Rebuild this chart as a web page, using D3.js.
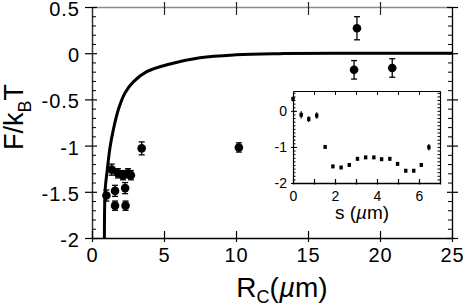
<!DOCTYPE html>
<html><head><meta charset="utf-8">
<script src="https://cdn.jsdelivr.net/npm/d3@7"></script>
<style>
body{margin:0;background:#fff}
svg{display:block}
text{font-family:"Liberation Sans",Arial,Helvetica,sans-serif;fill:#000}
</style>
</head><body>
<svg id="c" width="467" height="307"></svg>
<script>
// ---- data ----
const mainR   = [1.0, 1.37, 1.8, 2.15, 2.5, 2.7, 1.6, 2.3, 1.6, 2.33, 3.45, 10.2, 18.4, 18.2, 20.85];
const mainF   = [-1.54, -1.26, -1.30, -1.32, -1.30, -1.32, -1.49, -1.46, -1.65, -1.65, -1.03, -1.02, 0.27, -0.18, -0.16];
const mainErr = [0.06, 0.06, 0.05, 0.05, 0.05, 0.05, 0.06, 0.06, 0.05, 0.05, 0.07, 0.05, 0.125, 0.1, 0.1];

const curveR = [0.86, 0.87, 0.89, 0.93, 1.04, 1.25, 1.48, 1.83, 2.29, 2.87, 3.8, 5.2, 7.5, 10, 13, 17, 25];
const curveF = [-2.0, -1.75, -1.58, -1.44, -1.29, -1.02, -0.83, -0.61, -0.43, -0.31, -0.2, -0.125, -0.05, -0.018, -0.005, 0, 0];

const insetS   = [0, 0.39, 0.75, 1.13, 1.53, 1.9, 2.29, 2.68, 3.07, 3.46, 3.85, 4.22, 4.61, 4.98, 5.37, 5.75, 6.11, 6.47];
const insetF   = [0.33, -0.11, -0.23, -0.13, -1.0, -1.54, -1.57, -1.5, -1.33, -1.29, -1.29, -1.34, -1.33, -1.47, -1.66, -1.66, -1.5, -1.01];
const insetErr = [0.07, 0.1, 0.08, 0.09, 0.04, 0.03, 0.03, 0.03, 0.04, 0.03, 0.03, 0.03, 0.03, 0.03, 0.03, 0.03, 0.04, 0.09];

const xTicks = [0, 5, 10, 15, 20, 25];
const xTickLabels = ["0", "5", "10", "15", "20", "25"];
const yTicks = [0.5, 0, -0.5, -1, -1.5, -2];
const yTickLabels = ["0.5", "0", "-0.5", "-1", "-1.5", "-2"];
const insetXTicks = [0, 1, 2, 3, 4, 5, 6, 7];
const insetXLabels = {0: "0", 2: "2", 4: "4", 6: "6"};
const insetYTicks = [0, -1, -2];
const insetYLabels = ["0", "-1", "-2"];

// ---- drawing ----
const svg = d3.select("#c");
const x = d3.scaleLinear([0, 25], [92, 452]);
const y = d3.scaleLinear([-2, 0.5], [238, 7]);

const minorY = d3.range(-20, 6).map(v => v / 10).filter(v => Math.abs(v * 2 - Math.round(v * 2)) > 1e-6);

// top axis (gray frame)
const gTop = svg.append("g").attr("transform", "translate(0,7)")
  .call(d3.axisTop(x).tickValues(xTicks.slice(1, -1)).tickSizeOuter(0).tickFormat(""));
gTop.select(".domain").attr("stroke", "#8a8a8a").attr("stroke-width", 1.6);
gTop.selectAll(".tick line").attr("y1", -5).attr("y2", 8).attr("stroke", "#222").attr("stroke-width", 1.2);

// right axis
const gRight = svg.append("g").attr("transform", "translate(452,0)")
  .call(d3.axisRight(y).tickValues(yTicks).tickSizeOuter(0).tickFormat(""));
gRight.select(".domain").attr("stroke-width", 1.3);
gRight.selectAll(".tick line").attr("x1", -5).attr("x2", 6).attr("stroke-width", 1.2);
const gRightMin = svg.append("g").attr("transform", "translate(452,0)")
  .call(d3.axisLeft(y).tickValues(minorY).tickSize(4).tickSizeOuter(0).tickFormat(""));
gRightMin.select(".domain").remove();

// left axis
const gLeft = svg.append("g").attr("transform", "translate(92,0)")
  .call(d3.axisLeft(y).tickValues(yTicks).tickSizeOuter(0).tickFormat((d, i) => yTickLabels[i]));
gLeft.select(".domain").attr("stroke", "#333").attr("stroke-width", 1.5);
gLeft.selectAll(".tick line").attr("x1", -7).attr("x2", 5).attr("stroke-width", 1.2);
gLeft.selectAll(".tick text").attr("x", -12).attr("font-size", 20).attr("letter-spacing", 1)
  .attr("dy", "0.42em")
  .style("font-family", "'Liberation Sans',Arial,sans-serif");
const gLeftMin = svg.append("g").attr("transform", "translate(92,0)")
  .call(d3.axisRight(y).tickValues(minorY).tickSize(4).tickSizeOuter(0).tickFormat(""));
gLeftMin.select(".domain").remove();

// bottom axis
const gBot = svg.append("g").attr("transform", "translate(0,238)")
  .call(d3.axisBottom(x).tickValues(xTicks).tickSizeOuter(0).tickFormat((d, i) => xTickLabels[i]));
gBot.select(".domain").attr("stroke-width", 1.5);
gBot.selectAll(".tick line").attr("y1", -7).attr("y2", 4).attr("stroke-width", 1.2);
gBot.selectAll(".tick text").attr("y", 10).attr("font-size", 20).attr("letter-spacing", 1)
  .style("font-family", "'Liberation Sans',Arial,sans-serif");

// curve
const curvePts = curveR.map((r, i) => [r, curveF[i]]);
svg.append("path").datum(curvePts)
  .attr("d", d3.line().x(d => x(d[0])).y(d => y(d[1])).curve(d3.curveCatmullRom.alpha(0.5)))
  .attr("fill", "none").attr("stroke", "#000").attr("stroke-width", 3);

// main data points
const mainPts = mainR.map((r, i) => ({r, f: mainF[i], e: mainErr[i]}));
const gp = svg.append("g");
gp.selectAll("line.eb").data(mainPts).join("line")
  .attr("x1", d => x(d.r)).attr("x2", d => x(d.r))
  .attr("y1", d => y(d.f + d.e)).attr("y2", d => y(d.f - d.e))
  .attr("stroke", "#000").attr("stroke-width", 1.3);
gp.selectAll("line.c1").data(mainPts).join("line")
  .attr("x1", d => x(d.r) - 3).attr("x2", d => x(d.r) + 3)
  .attr("y1", d => y(d.f + d.e)).attr("y2", d => y(d.f + d.e))
  .attr("stroke", "#000").attr("stroke-width", 1.3);
gp.selectAll("line.c2").data(mainPts).join("line")
  .attr("x1", d => x(d.r) - 3).attr("x2", d => x(d.r) + 3)
  .attr("y1", d => y(d.f - d.e)).attr("y2", d => y(d.f - d.e))
  .attr("stroke", "#000").attr("stroke-width", 1.3);
gp.selectAll("circle").data(mainPts).join("circle")
  .attr("cx", d => x(d.r)).attr("cy", d => y(d.f)).attr("r", 4.3).attr("fill", "#000");

// axis titles
const yl = svg.append("text").attr("transform", "translate(23,117) rotate(-90)")
  .attr("text-anchor", "middle").attr("font-size", 27);
yl.append("tspan").text("F/k");
yl.append("tspan").attr("font-size", 18).attr("dy", 8).text("B");
yl.append("tspan").attr("dy", -8).text("T");

const xl = svg.append("text").attr("x", 282).attr("y", 297)
  .attr("text-anchor", "middle").attr("font-size", 28);
xl.append("tspan").text("R");
xl.append("tspan").attr("font-size", 18).attr("dy", 6).text("C");
xl.append("tspan").attr("dy", -6).text("(");
xl.append("tspan").attr("font-style", "italic").text("µ");
xl.append("tspan").text("m)");

// ---- inset ----
const xi = d3.scaleLinear([0, 7], [293, 440]);
const yi = d3.scaleLinear([-2, 0.55], [183, 91]);
const minorYi = d3.range(-20, 6).map(v => v / 10);

const giTop = svg.append("g").attr("transform", "translate(0,91)")
  .call(d3.axisBottom(xi).tickValues(insetXTicks.slice(1, -1)).tickSize(4).tickSizeOuter(0).tickFormat(""));
giTop.select(".domain").attr("stroke-width", 1.2);
const giRight = svg.append("g").attr("transform", "translate(440,0)")
  .call(d3.axisLeft(yi).tickValues(minorYi).tickSize(2.5).tickSizeOuter(0).tickFormat(""));
giRight.select(".domain").attr("stroke-width", 1.2);
giRight.selectAll(".tick line").attr("stroke-width", 1);

const giLeft = svg.append("g").attr("transform", "translate(293,0)")
  .call(d3.axisLeft(yi).tickValues(insetYTicks).tickSizeOuter(0).tickFormat((d, i) => insetYLabels[i]));
giLeft.select(".domain").attr("stroke-width", 1.2);
giLeft.selectAll(".tick line").attr("x1", -2).attr("x2", 4);
giLeft.selectAll(".tick text").attr("x", -6).attr("font-size", 14);
const giLeftMin = svg.append("g").attr("transform", "translate(293,0)")
  .call(d3.axisRight(yi).tickValues(minorYi).tickSize(2.5).tickSizeOuter(0).tickFormat(""));
giLeftMin.select(".domain").remove();

const giBot = svg.append("g").attr("transform", "translate(0,183)")
  .call(d3.axisBottom(xi).tickValues(insetXTicks).tickSizeOuter(0).tickFormat(d => insetXLabels[d] || ""));
giBot.select(".domain").attr("stroke-width", 1.3);
giBot.selectAll(".tick line").attr("y1", -4).attr("y2", 1.5).attr("stroke-width", 1.2);
giBot.selectAll(".tick text").attr("y", 8).attr("font-size", 14);

const insetPts = insetS.map((s, i) => ({s, f: insetF[i], e: insetErr[i]}));
const gi = svg.append("g");
gi.selectAll("line").data(insetPts).join("line")
  .attr("x1", d => xi(d.s)).attr("x2", d => xi(d.s))
  .attr("y1", d => yi(d.f + d.e)).attr("y2", d => yi(d.f - d.e))
  .attr("stroke", "#000").attr("stroke-width", 1.2);
gi.selectAll("rect").data(insetPts).join("rect")
  .attr("x", d => xi(d.s) - 1.7).attr("y", d => yi(d.f) - 2)
  .attr("width", 3.4).attr("height", 4).attr("fill", "#000");

const il = svg.append("text").attr("x", 362).attr("y", 219)
  .attr("text-anchor", "middle").attr("font-size", 19);
il.append("tspan").text("s (");
il.append("tspan").attr("font-style", "italic").text("µ");
il.append("tspan").text("m)");
</script>
</body></html>
